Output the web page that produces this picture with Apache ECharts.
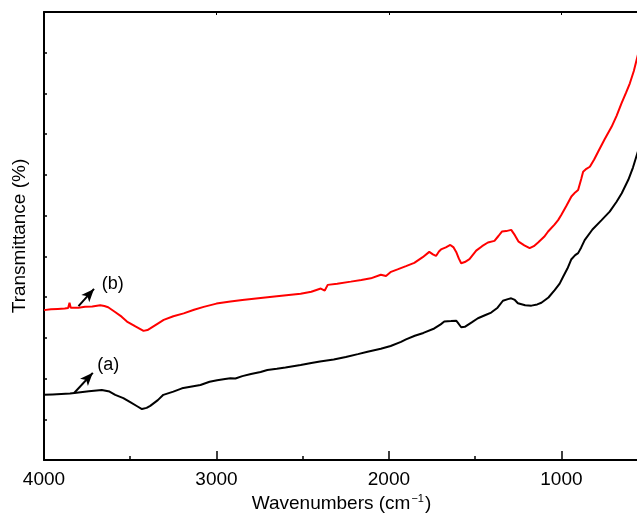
<!DOCTYPE html>
<html>
<head>
<meta charset="utf-8">
<script src="https://cdn.jsdelivr.net/npm/echarts@6/dist/echarts.min.js"></script>
<style>
    html, body { margin: 0; padding: 0; background: #fff; }
    #chart_main { width: 637px; height: 515px; }
</style>
</head>
<body>
<div id="chart_main"></div>
<script>
// wavenumbers (cm-1) and transmittance (arbitrary, offset)
var waveA = [4000, 3950, 3900, 3849, 3800, 3740, 3665, 3620, 3587, 3540, 3500, 3460, 3432, 3405, 3384, 3340, 3308, 3250, 3200, 3151, 3093, 3040, 2996, 2950, 2919, 2890, 2850, 2800, 2744, 2705, 2650, 2600, 2512, 2450, 2400, 2320, 2250, 2180, 2124, 2047, 1990, 1930, 1901, 1850, 1800, 1737, 1700, 1679, 1640, 1610, 1595, 1581, 1560, 1552, 1520, 1484, 1440, 1407, 1370, 1339, 1310, 1291, 1270, 1252, 1210, 1174, 1140, 1116, 1075, 1039, 1010, 990, 965, 942, 920, 903, 885, 865, 820, 767, 720, 680, 650, 612, 585, 554];
var transA = [1.60, 1.61, 1.62, 1.63, 1.66, 1.69, 1.72, 1.68, 1.60, 1.52, 1.42, 1.32, 1.25, 1.28, 1.33, 1.47, 1.60, 1.68, 1.76, 1.80, 1.84, 1.92, 1.96, 1.99, 2.01, 2.00, 2.06, 2.11, 2.16, 2.21, 2.24, 2.27, 2.33, 2.38, 2.42, 2.47, 2.53, 2.60, 2.66, 2.73, 2.80, 2.90, 2.96, 3.05, 3.12, 3.23, 3.33, 3.40, 3.41, 3.42, 3.34, 3.26, 3.27, 3.29, 3.38, 3.48, 3.56, 3.62, 3.74, 3.91, 3.95, 3.97, 3.93, 3.85, 3.80, 3.79, 3.82, 3.86, 3.99, 4.17, 4.33, 4.50, 4.70, 4.93, 5.03, 5.08, 5.22, 5.40, 5.66, 5.89, 6.10, 6.34, 6.55, 6.88, 7.18, 7.61];

var waveB = [4000, 3960, 3920, 3880, 3860, 3852, 3845, 3800, 3762, 3720, 3674, 3650, 3628, 3590, 3550, 3519, 3470, 3423, 3400, 3384, 3340, 3306, 3250, 3190, 3130, 3074, 3000, 2919, 2850, 2744, 2650, 2512, 2450, 2395, 2372, 2355, 2300, 2221, 2160, 2105, 2047, 2017, 1988, 1950, 1901, 1853, 1804, 1766, 1745, 1727, 1710, 1698, 1670, 1644, 1625, 1610, 1595, 1581, 1560, 1533, 1494, 1460, 1426, 1388, 1365, 1345, 1320, 1291, 1270, 1248, 1215, 1184, 1160, 1135, 1100, 1077, 1040, 1019, 1000, 970, 942, 920, 903, 885, 874, 855, 835, 810, 787, 750, 709, 680, 651, 625, 603, 580, 554];
var transB = [3.68, 3.70, 3.71, 3.72, 3.73, 3.86, 3.74, 3.74, 3.76, 3.77, 3.80, 3.78, 3.75, 3.64, 3.52, 3.40, 3.28, 3.17, 3.19, 3.23, 3.35, 3.44, 3.53, 3.60, 3.69, 3.76, 3.84, 3.89, 3.93, 3.98, 4.02, 4.08, 4.13, 4.21, 4.16, 4.30, 4.33, 4.38, 4.42, 4.46, 4.55, 4.52, 4.62, 4.68, 4.76, 4.84, 4.98, 5.11, 5.05, 5.01, 5.12, 5.17, 5.22, 5.28, 5.22, 5.11, 4.95, 4.83, 4.86, 4.93, 5.14, 5.25, 5.34, 5.38, 5.50, 5.61, 5.62, 5.65, 5.52, 5.36, 5.27, 5.20, 5.25, 5.34, 5.48, 5.61, 5.78, 5.89, 6.02, 6.25, 6.47, 6.57, 6.63, 6.90, 7.08, 7.15, 7.20, 7.38, 7.57, 7.87, 8.18, 8.45, 8.76, 9.02, 9.25, 9.55, 9.99];

var majorTicks = [1000, 2000, 3000, 4000];
var minorTicks = [1500, 2500, 3500];

// arrow start/end and label position for the two annotations
var arrowA = [[3824, 1.65], [3717, 2.14]];
var labelA = [3628, 2.33];
var arrowB = [[3800, 3.78], [3710, 4.20]];
var labelB = [3601, 4.32];

function zip(xs, ys) {
    return xs.map(function (x, i) { return [x, ys[i]]; });
}

var font = 'Liberation Sans, Arial, sans-serif';
var myChart = echarts.init(document.getElementById('chart_main'));

function annot(arrow, label, text) {
    return {
        markLine: {
            silent: true,
            symbol: ['none', 'arrow'],
            symbolSize: [8, 13],
            lineStyle: { color: '#000', width: 2, type: 'solid' },
            label: { show: false },
            data: [[{ coord: arrow[0] }, { coord: arrow[1] }]]
        },
        markPoint: {
            silent: true,
            symbol: 'circle',
            symbolSize: 0,
            label: {
                show: true, position: 'inside', formatter: text,
                color: '#000', fontSize: 18, fontFamily: font
            },
            data: [{ coord: label }]
        }
    };
}

var baseX = {
    type: 'value', min: 550, max: 4000, inverse: true,
    axisLine: { show: false },
    splitLine: { show: false },
    axisLabel: { show: false },
    axisTick: { show: false }
};

var option = {
    animation: false,
    backgroundColor: '#fff',
    grid: { left: 44, top: 12, right: -2, bottom: 55, containLabel: false, outerBoundsMode: 'none' },
    xAxis: [
        Object.assign({}, baseX, {
            position: 'bottom',
            name: '{a|Wavenumbers (cm}{s|−1}{a|)}',
            nameLocation: 'middle',
            nameGap: 31,
            nameTextStyle: {
                rich: {
                    a: { fontSize: 19, fontFamily: font, color: '#000' },
                    s: { fontSize: 11, fontFamily: font, color: '#000', verticalAlign: 'top', padding: [0, 1, 8, 1] }
                }
            },
            axisLine: { show: true, lineStyle: { color: '#000', width: 2 } },
            axisTick: { show: true, inside: true, length: 9, customValues: majorTicks, lineStyle: { color: '#000', width: 1.5 } },
            axisLabel: {
                show: true, customValues: majorTicks, margin: 10, fontSize: 19, fontFamily: font, color: '#000',
                formatter: function (v) { return String(v); }
            }
        }),
        Object.assign({}, baseX, {
            position: 'bottom',
            axisTick: { show: true, inside: true, length: 4, customValues: minorTicks, lineStyle: { color: '#000', width: 1.5 } }
        }),
        Object.assign({}, baseX, {
            position: 'top',
            axisLine: { show: true, lineStyle: { color: '#000', width: 2 } },
            axisTick: { show: true, inside: true, length: 3, customValues: majorTicks, lineStyle: { color: '#000', width: 1 } }
        })
    ],
    yAxis: {
        type: 'value', min: 0, max: 11, interval: 1,
        name: 'Transmittance (%)',
        nameLocation: 'middle',
        nameGap: 15,
        nameTextStyle: { fontSize: 19, fontFamily: font, color: '#000' },
        axisLine: { show: true, lineStyle: { color: '#000', width: 2 } },
        axisTick: { show: true, inside: true, length: 3, lineStyle: { color: '#000', width: 1.5 } },
        axisLabel: { show: false },
        splitLine: { show: false }
    },
    series: [
        Object.assign({
            name: '(a)', type: 'line', xAxisIndex: 0, showSymbol: false,
            lineStyle: { color: '#000', width: 2 },
            data: zip(waveA, transA)
        }, annot(arrowA, labelA, '(a)')),
        Object.assign({
            name: '(b)', type: 'line', xAxisIndex: 0, showSymbol: false,
            lineStyle: { color: '#ff0000', width: 2 },
            data: zip(waveB, transB)
        }, annot(arrowB, labelB, '(b)'))
    ]
};
myChart.setOption(option);
</script>
</body>
</html>
